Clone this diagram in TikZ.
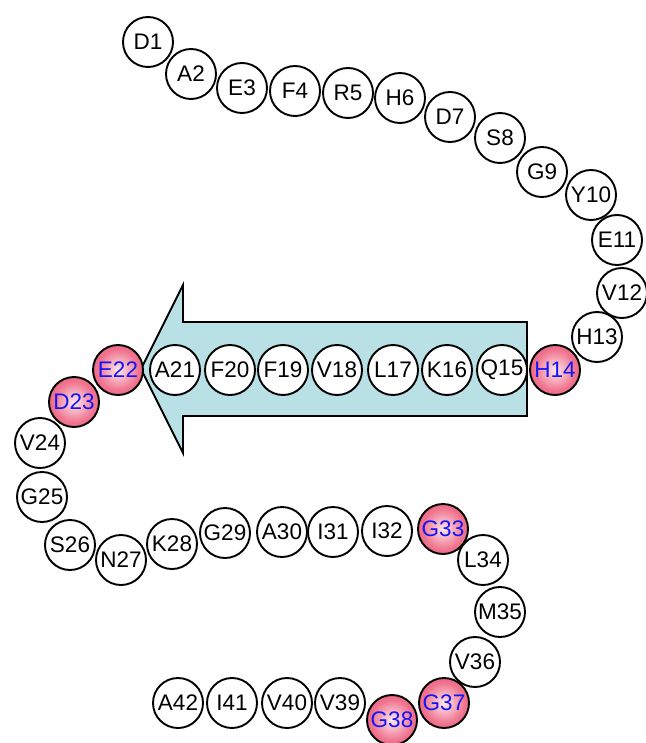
\documentclass[tikz,border=0pt]{standalone}
\usepackage{fontspec}
\setmainfont{Liberation Sans}
\definecolor{strandfill}{RGB}{185,224,228}
\definecolor{ballout}{RGB}{228,50,86}
\definecolor{ballmid}{RGB}{240,118,144}
\definecolor{ballin}{RGB}{253,232,237}
\definecolor{labelblue}{RGB}{20,20,245}
\pgfdeclareradialshading{residueball}{\pgfpoint{0bp}{0bp}}{%
  color(0bp)=(ballin); color(20bp)=(ballmid); color(44bp)=(ballout); color(50bp)=(ballout); color(100bp)=(ballout)}
\tikzset{
  res/.style={circle, draw=black, line width=1.9pt, fill=white, minimum size=50pt,
    inner sep=0pt, font=\fontsize{22.5}{26}\selectfont},
  hot/.style={res, shading=residueball, text=labelblue},
  strand/.style={draw=black, line width=1.9pt, fill=strandfill, line join=miter}
}
\begin{document}
\begin{tikzpicture}[x=1pt,y=-1pt]
\useasboundingbox (0,0) rectangle (645,743);
% beta strand arrow, drawn beneath the residues
\coordinate (tip) at (141,369);
\coordinate (headtop) at (183,285);
\coordinate (headbot) at (183,453);
\coordinate (shafttl) at (183,322);
\coordinate (shafttr) at (527,322);
\coordinate (shaftbr) at (527,416);
\coordinate (shaftbl) at (183,416);
\draw[strand] (tip) -- (headtop) -- (shafttl) -- (shafttr) -- (shaftbr) -- (shaftbl) -- (headbot) -- cycle;
% residues
\node[res] (r1)  at (148,42)  {D1};
\node[res] (r2)  at (191,74)  {A2};
\node[res] (r3)  at (242,88)  {E3};
\node[res] (r4)  at (295,91)  {F4};
\node[res] (r5)  at (348,93)  {R5};
\node[res] (r6)  at (400,98)  {H6};
\node[res] (r7)  at (450,117) {D7};
\node[res] (r8)  at (500,138) {S8};
\node[res] (r9)  at (542,172) {G9};
\node[res] (r10) at (591,195) {Y10};
\node[res] (r11) at (617,240) {E11};
\node[res] (r12) at (622,293) {V12};
\node[res] (r13) at (597,337) {H13};
\node[hot] (r14) at (555,370) {H14};
\node[res] (r15) at (502,370) {Q15};
\node[res] (r16) at (447,370) {K16};
\node[res] (r17) at (393,370) {L17};
\node[res] (r18) at (337,370) {V18};
\node[res] (r19) at (283,370) {F19};
\node[res] (r20) at (230,370) {F20};
\node[res] (r21) at (175,370) {A21};
\node[hot] (r22) at (118,370) {E22};
\node[hot] (r23) at (74,402)  {D23};
\node[res] (r24) at (40,443)  {V24};
\node[res] (r25) at (42,497)  {G25};
\node[res] (r26) at (70,545)  {S26};
\node[res] (r27) at (121,560) {N27};
\node[res] (r28) at (172,544) {K28};
\node[res] (r29) at (225,533) {G29};
\node[res] (r30) at (282,532) {A30};
\node[res] (r31) at (333,532) {I31};
\node[res] (r32) at (387,531) {I32};
\node[hot] (r33) at (443,529) {G33};
\node[res] (r34) at (483,560) {L34};
\node[res] (r35) at (500,612) {M35};
\node[res] (r36) at (475,662) {V36};
\node[hot] (r37) at (444,703) {G37};
\node[hot] (r38) at (392,720) {G38};
\node[res] (r39) at (340,703) {V39};
\node[res] (r40) at (287,703) {V40};
\node[res] (r41) at (232,703) {I41};
\node[res] (r42) at (178,703) {A42};
\end{tikzpicture}
\end{document}
